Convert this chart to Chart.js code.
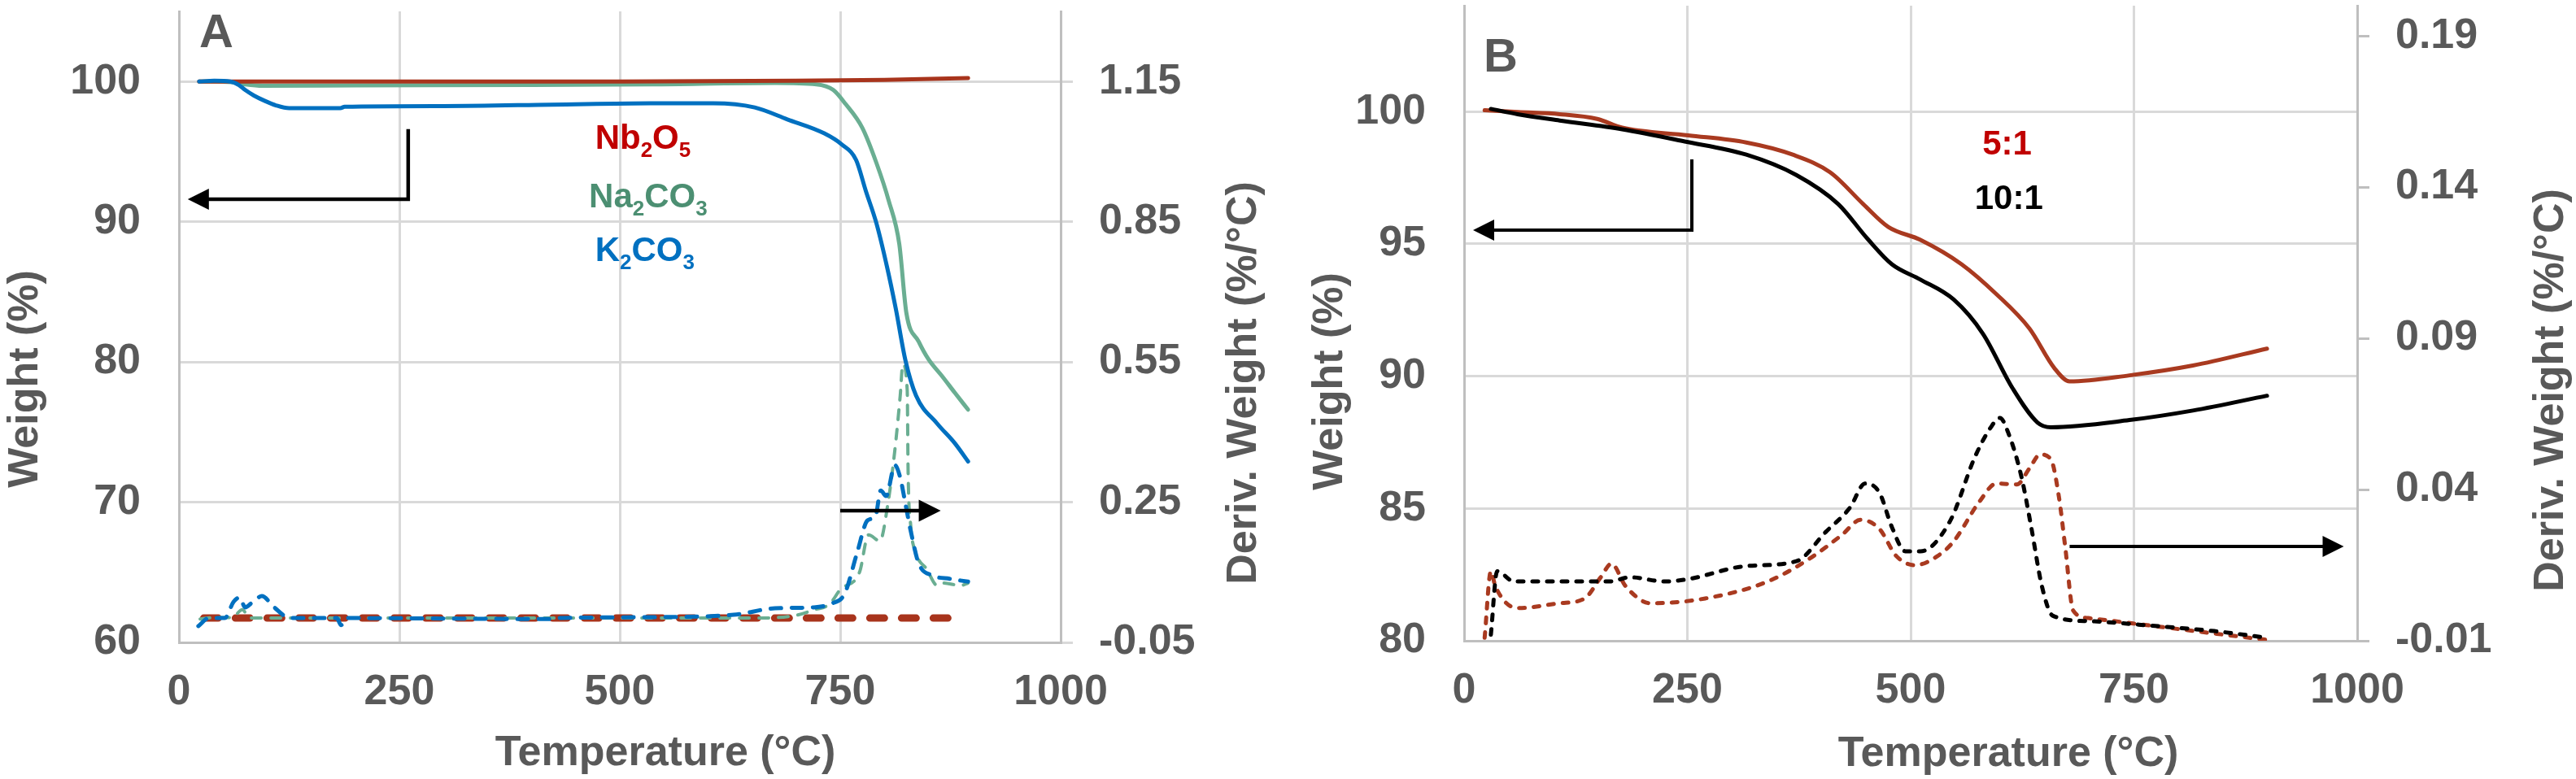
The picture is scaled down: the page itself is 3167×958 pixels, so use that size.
<!DOCTYPE html>
<html>
<head>
<meta charset="utf-8">
<script src="https://cdn.jsdelivr.net/npm/chart.js@4.4.1/dist/chart.umd.min.js"></script>
<style>
  html, body { margin: 0; padding: 0; background: #fff; }
  #wrap { position: relative; width: 3167px; height: 958px; }
  canvas { position: absolute; top: 0; }
  #chartA { left: 0; }
  #chartB { left: 1580px; }
</style>
</head>
<body>
<div id="wrap">
  <canvas id="chartA" width="1580" height="958"></canvas>
  <canvas id="chartB" width="1587" height="958"></canvas>
</div>
<script>
// ---- panel A : weight (%) ----
const kTemp = [23, 40, 58, 68, 75, 85, 98, 110, 125, 183, 188, 300, 423, 535, 606, 653, 690, 732, 752, 768, 779, 791, 803, 813, 824, 836, 860, 880, 895]
const kWeight = [100.0, 100.05, 100.0, 99.75, 99.4, 99.0, 98.6, 98.3, 98.1, 98.1, 98.2, 98.25, 98.35, 98.45, 98.45, 98.15, 97.3, 96.3, 95.5, 94.4, 92.2, 89.9, 86.8, 83.8, 80.1, 77.6, 75.6, 74.2, 72.9]
const naTemp = [23, 60, 75, 95, 200, 400, 537, 676, 723, 742, 756, 775, 791, 805, 817, 825, 839, 850, 866, 880, 895]
const naWeight = [100.0, 99.95, 99.8, 99.7, 99.72, 99.75, 99.8, 99.9, 99.8, 99.4, 98.4, 96.7, 94.2, 91.5, 88.4, 83.5, 81.45, 80.2, 78.95, 77.8, 76.6]
const nbTemp = [23, 200, 500, 700, 800, 895]
const nbWeight = [100.0, 100.0, 100.0, 100.05, 100.12, 100.25]

// ---- panel A : deriv. weight (%/°C) ----
const kDerivTemp = [22, 34, 52, 62, 69, 75, 84, 94, 108, 126, 179, 184, 189, 419, 430, 535, 629, 676, 720, 740, 755, 769, 781, 790, 796, 802, 812, 818, 824, 830, 839, 855, 874, 895]
const kDeriv = [-0.015, 0.002, 0.002, 0.037, 0.046, 0.025, 0.037, 0.049, 0.025, 0.002, 0.002, -0.013, 0.002, 0.0, 0.002, 0.004, 0.009, 0.023, 0.025, 0.033, 0.054, 0.141, 0.211, 0.22, 0.275, 0.263, 0.329, 0.303, 0.246, 0.188, 0.119, 0.093, 0.086, 0.08]
const naDerivTemp = [24, 40, 60, 72, 80, 300, 650, 700, 720, 738, 750, 772, 782, 795, 804, 812, 818, 821, 826, 827, 830, 836, 848, 860, 866, 887, 895]
const naDeriv = [0.0, 0.003, 0.003, 0.02, 0.002, 0.002, 0.002, 0.008, 0.0196, 0.032, 0.063, 0.101, 0.18, 0.167, 0.246, 0.362, 0.477, 0.545, 0.489, 0.315, 0.199, 0.141, 0.107, 0.072, 0.077, 0.072, 0.077]
const nbDerivTemp = [28, 200, 400, 600, 800, 884]
const nbDeriv = [0.002, 0.002, 0.002, 0.002, 0.002, 0.002]

// ---- panel B : weight (%) ----
const r5Temp = [23, 60, 107, 149, 177, 251, 316, 368, 410, 447, 475, 511, 557, 596, 633, 661, 678, 745, 816, 899]
const r5Weight = [100.05, 99.98, 99.9, 99.72, 99.39, 99.1, 98.83, 98.37, 97.7, 96.5, 95.64, 95.15, 94.23, 93.1, 91.8, 90.3, 89.8, 90.03, 90.4, 91.04]
const r10Temp = [30, 60, 107, 177, 247, 316, 372, 419, 452, 479, 511, 548, 581, 614, 642, 657, 745, 816, 899]
const r10Weight = [100.1, 99.9, 99.66, 99.33, 98.87, 98.37, 97.6, 96.5, 95.18, 94.23, 93.65, 92.9, 91.6, 89.55, 88.25, 88.07, 88.34, 88.7, 89.26]

// ---- panel B : deriv. weight (%/°C) ----
const r5DerivTemp = [23, 30, 35, 60, 107, 135, 153, 165, 181, 209, 270, 340, 386, 423, 444, 465, 484, 505, 530, 548, 577, 596, 619, 633, 645, 657, 666, 673, 682, 699, 769, 840, 899]
const r5Deriv = [-0.009, 0.013, 0.008, 0.0008, 0.0024, 0.004, 0.011, 0.0155, 0.008, 0.0024, 0.004, 0.0096, 0.017, 0.025, 0.03, 0.027, 0.018, 0.015, 0.018, 0.0228, 0.036, 0.042, 0.0417, 0.047, 0.0516, 0.05, 0.0376, 0.0212, 0.0, -0.0025, -0.005, -0.0076, -0.0097]
const r10DerivTemp = [30, 37, 56, 107, 162, 186, 224, 251, 316, 372, 405, 432, 449, 465, 479, 494, 511, 544, 572, 590, 600, 609, 624, 635, 647, 659, 699, 769, 840, 899]
const r10Deriv = [-0.008, 0.013, 0.0096, 0.0096, 0.0096, 0.011, 0.0096, 0.0104, 0.0147, 0.0163, 0.026, 0.034, 0.042, 0.039, 0.0276, 0.0196, 0.0196, 0.0295, 0.0508, 0.0607, 0.0637, 0.059, 0.0443, 0.0276, 0.008, -0.0017, -0.0035, -0.005, -0.0068, -0.009]

// ---- ticks ----
const tempTicks = [0, 250, 500, 750, 1000]
const weightTicksA = [60, 70, 80, 90, 100]
const derivTicksA = [-0.05, 0.25, 0.55, 0.85, 1.15]
const weightTicksB = [80, 85, 90, 95, 100]
const derivTicksB = [-0.01, 0.04, 0.09, 0.14, 0.19]

const FONT = '"Liberation Sans", Arial, sans-serif'
const textGray = '#595959'
const gridGray = '#d9d9d9'
const axisGray = '#bfbfbf'
const tickFont = { family: FONT, size: 52, weight: 'bold' }

function pts (xs, ys) {
  return xs.map((x, i) => ({ x: x, y: ys[i] }))
}

// fixed box size so both panels line up with the picture
function fixedBox (size) {
  return function (scale) {
    if (scale.isHorizontal()) scale.height = size
    else scale.width = size
    scale.paddingTop = 0
    scale.paddingBottom = 0
    scale.paddingLeft = 0
    scale.paddingRight = 0
  }
}

function useTicks (list) {
  return function (scale) {
    scale.ticks = list.map((v) => ({ value: v }))
  }
}

function line (label, data, color, width, axis, dash) {
  return {
    label: label,
    data: data,
    yAxisID: axis,
    borderColor: color,
    borderWidth: width,
    borderDash: dash || [],
    borderCapStyle: 'round',
    borderJoinStyle: 'round',
    cubicInterpolationMode: 'monotone',
    pointRadius: 0,
    fill: false
  }
}

function drawRich (ctx, parts, x, yMid, size, color, align) {
  const big = 'bold ' + size + 'px ' + FONT
  const small = 'bold ' + Math.round(size * 0.62) + 'px ' + FONT
  let w = 0
  parts.forEach(([t, sub]) => {
    ctx.font = sub ? small : big
    w += ctx.measureText(t).width
  })
  let cx = align === 'center' ? x - w / 2 : x
  const base = yMid + size * 0.36
  ctx.fillStyle = color
  ctx.textAlign = 'left'
  ctx.textBaseline = 'alphabetic'
  parts.forEach(([t, sub]) => {
    ctx.font = sub ? small : big
    ctx.fillText(t, cx, sub ? base + size * 0.24 : base)
    cx += ctx.measureText(t).width
  })
}

function drawArrow (ctx, p, lw, head) {
  const n = p.length
  const [x1, y1] = p[n - 2]
  const [x2, y2] = p[n - 1]
  const a = Math.atan2(y2 - y1, x2 - x1)
  const c = Math.cos(a)
  const s = Math.sin(a)
  ctx.save()
  ctx.strokeStyle = '#000'
  ctx.fillStyle = '#000'
  ctx.lineWidth = lw
  ctx.lineCap = 'butt'
  ctx.lineJoin = 'miter'
  ctx.beginPath()
  ctx.moveTo(p[0][0], p[0][1])
  for (let i = 1; i < n - 1; i++) ctx.lineTo(p[i][0], p[i][1])
  ctx.lineTo(x2 - c * head * 0.8, y2 - s * head * 0.8)
  ctx.stroke()
  ctx.beginPath()
  ctx.moveTo(x2, y2)
  ctx.lineTo(x2 - c * head - s * head / 2, y2 - s * head + c * head / 2)
  ctx.lineTo(x2 - c * head + s * head / 2, y2 - s * head - c * head / 2)
  ctx.closePath()
  ctx.fill()
  ctx.restore()
}

// titles, panel letter, series labels and arrows
function overlay (cfg) {
  return {
    id: 'overlay',
    afterDraw (chart) {
      const ctx = chart.ctx
      const xs = chart.scales.x
      ctx.save()
      ctx.fillStyle = textGray
      ctx.font = 'bold 52px ' + FONT
      ctx.textAlign = 'center'
      ctx.textBaseline = 'middle'
      ctx.fillText('Temperature (°C)', cfg.xTitle[0], cfg.xTitle[1])
      cfg.yTitles.forEach((t) => {
        ctx.save()
        ctx.translate(t.at[0], t.at[1])
        ctx.rotate(-Math.PI / 2)
        ctx.fillText(t.text, 0, 0)
        ctx.restore()
      })
      ctx.font = 'bold 58px ' + FONT
      ctx.fillText(cfg.letter, cfg.letterAt[0], cfg.letterAt[1])
      cfg.labels.forEach((l) => {
        const px = xs.getPixelForValue(l.x)
        const py = chart.scales[l.axis].getPixelForValue(l.y)
        drawRich(ctx, l.parts, px, py, 42, l.color, l.align)
      })
      cfg.arrows.forEach((a) => {
        const ys = chart.scales[a.axis]
        const p = a.pts.map((q) => [xs.getPixelForValue(q[0]), ys.getPixelForValue(q[1])])
        drawArrow(ctx, p, a.width, a.head)
      })
      ctx.restore()
    }
  }
}

function makeScales (o) {
  return {
    x: {
      type: 'linear',
      min: 0,
      max: 1000,
      afterBuildTicks: useTicks(tempTicks),
      afterFit: fixedBox(o.xHeight),
      grid: { color: gridGray, lineWidth: 3, drawTicks: false },
      border: { color: axisGray, width: 3 },
      ticks: { font: tickFont, color: textGray, padding: 30, maxRotation: 0, autoSkip: false, callback: (v) => String(v) }
    },
    y: {
      position: 'left',
      min: o.wMin,
      max: o.wMax,
      afterBuildTicks: useTicks(o.wTicks),
      afterFit: fixedBox(220),
      grid: { color: gridGray, lineWidth: 3, drawTicks: false },
      border: { color: axisGray, width: 3 },
      ticks: { font: tickFont, color: textGray, padding: 47, callback: (v) => String(v) }
    },
    y2: {
      position: 'right',
      min: o.dMin,
      max: o.dMax,
      afterBuildTicks: useTicks(o.dTicks),
      afterFit: fixedBox(o.rightWidth),
      grid: { drawOnChartArea: false, drawTicks: true, tickLength: 15, color: o.rightTickColor, lineWidth: 3 },
      border: { color: axisGray, width: 3 },
      ticks: { font: tickFont, color: textGray, padding: 32, callback: (v) => v.toFixed(2) }
    }
  }
}

const baseOptions = {
  responsive: false,
  devicePixelRatio: 1,
  animation: false,
  plugins: { legend: { display: false }, tooltip: { enabled: false } }
}

new Chart('chartA', {
  type: 'line',
  data: {
    datasets: [
      line('K2CO3', pts(kTemp, kWeight), '#0070c0', 5, 'y'),
      line('Nb2O5', pts(nbTemp, nbWeight), '#a8341c', 5, 'y'),
      line('Na2CO3', pts(naTemp, naWeight), '#6aae92', 5, 'y'),
      line('K2CO3 deriv', pts(kDerivTemp, kDeriv), '#0070c0', 5, 'y2', [13, 13]),
      line('Na2CO3 deriv', pts(naDerivTemp, naDeriv), '#6aae92', 4, 'y2', [12, 12]),
      line('Nb2O5 deriv', pts(nbDerivTemp, nbDeriv), '#a8341c', 9, 'y2', [18, 21])
    ]
  },
  options: Object.assign({}, baseOptions, {
    layout: { padding: { top: 14, left: 0, right: 0, bottom: 0 } },
    scales: makeScales({
      xHeight: 168, wMin: 60, wMax: 105, wTicks: weightTicksA,
      dMin: -0.05, dMax: 1.30, dTicks: derivTicksA, rightWidth: 276, rightTickColor: gridGray
    })
  }),
  plugins: [overlay({
    xTitle: [818, 927],
    yTitles: [{ text: 'Weight (%)', at: [32, 466] }, { text: 'Deriv. Weight (%/°C)', at: [1530, 471] }],
    letter: 'A',
    letterAt: [266, 42],
    labels: [
      { parts: [['Nb'], ['2', true], ['O'], ['5', true]], x: 472, y: 96.1, axis: 'y', color: '#c00000', align: 'left' },
      { parts: [['Na'], ['2', true], ['CO'], ['3', true]], x: 465, y: 91.9, axis: 'y', color: '#4c8f72', align: 'left' },
      { parts: [['K'], ['2', true], ['CO'], ['3', true]], x: 472, y: 88.1, axis: 'y', color: '#0070c0', align: 'left' }
    ],
    arrows: [
      { axis: 'y', pts: [[260, 96.6], [260, 91.6], [10, 91.6]], width: 4.5, head: 26 },
      { axis: 'y2', pts: [[750, 0.232], [864, 0.232]], width: 4.5, head: 27 }
    ]
  })]
})

new Chart('chartB', {
  type: 'line',
  data: {
    datasets: [
      line('10:1', pts(r10Temp, r10Weight), '#000000', 5, 'y'),
      line('5:1', pts(r5Temp, r5Weight), '#a93a20', 5, 'y'),
      line('10:1 deriv', pts(r10DerivTemp, r10Deriv), '#000000', 5, 'y2', [7, 11]),
      line('5:1 deriv', pts(r5DerivTemp, r5Deriv), '#a93a20', 5, 'y2', [7, 11])
    ]
  },
  options: Object.assign({}, baseOptions, {
    layout: { padding: { top: 7, left: 0, right: 0, bottom: 0 } },
    scales: makeScales({
      xHeight: 170, wMin: 80, wMax: 104, wTicks: weightTicksB,
      dMin: -0.01, dMax: 0.20, dTicks: derivTicksB, rightWidth: 269, rightTickColor: axisGray
    })
  }),
  plugins: [overlay({
    xTitle: [889, 928],
    yTitles: [{ text: 'Weight (%)', at: [56, 469] }, { text: 'Deriv. Weight (%/°C)', at: [1557, 480] }],
    letter: 'B',
    letterAt: [265, 72],
    labels: [
      { parts: [['5:1']], x: 608, y: 98.83, axis: 'y', color: '#c00000', align: 'center' },
      { parts: [['10:1']], x: 610, y: 96.78, axis: 'y', color: '#000000', align: 'center' }
    ],
    arrows: [
      { axis: 'y', pts: [[255, 98.19], [255, 95.52], [10, 95.52]], width: 4, head: 26 },
      { axis: 'y2', pts: [[678, 0.0212], [985, 0.0212]], width: 4, head: 26 }
    ]
  })]
})
</script>
</body>
</html>
